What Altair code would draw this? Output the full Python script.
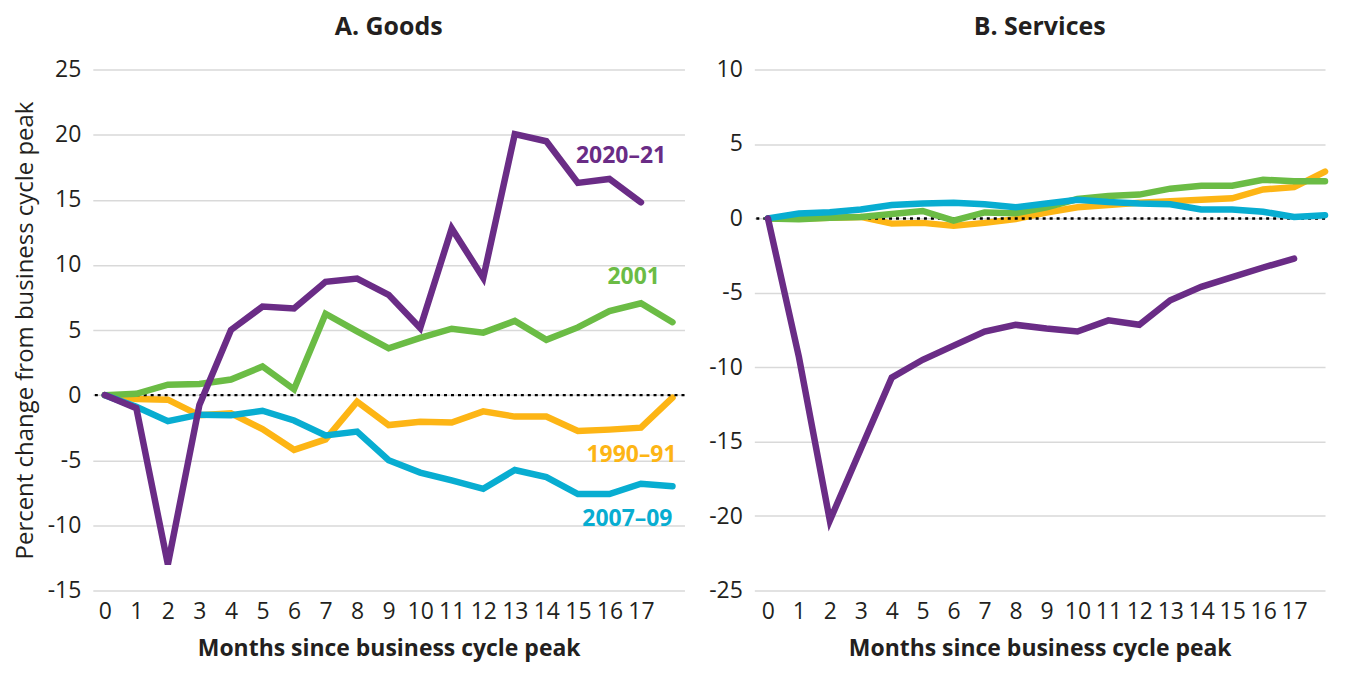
import altair as alt
import pandas as pd

months = list(range(19))
series_names = ["1990–91", "2001", "2007–09", "2020–21"]
series_colors = ["#FDB515", "#6BBC45", "#08ADD1", "#6A2C86"]

goods_1990 = [0, -0.3, -0.35, -1.55, -1.4, -2.6, -4.2, -3.4, -0.5, -2.3, -2.05, -2.1, -1.25, -1.65, -1.65, -2.75, -2.65, -2.5, -0.2]
goods_2001 = [0, 0.1, 0.8, 0.85, 1.2, 2.2, 0.45, 6.25, 4.9, 3.6, 4.4, 5.1, 4.8, 5.7, 4.25, 5.2, 6.45, 7.05, 5.6]
goods_2007 = [0, -0.9, -2.0, -1.5, -1.55, -1.2, -1.95, -3.1, -2.8, -5.0, -5.95, -6.55, -7.2, -5.75, -6.3, -7.6, -7.6, -6.8, -7.0]
goods_2020 = [0, -1.0, -13.0, -0.75, 5.0, 6.8, 6.65, 8.7, 8.95, 7.7, 5.15, 12.8, 9.0, 20.05, 19.5, 16.3, 16.6, 14.8]

serv_1990 = [0, 0, 0.05, 0.1, -0.35, -0.3, -0.5, -0.3, -0.05, 0.4, 0.75, 0.9, 1.05, 1.15, 1.25, 1.35, 1.95, 2.1, 3.15]
serv_2001 = [0, -0.05, 0.05, 0.1, 0.3, 0.5, -0.15, 0.4, 0.35, 0.75, 1.3, 1.5, 1.6, 2.0, 2.2, 2.2, 2.6, 2.5, 2.5]
serv_2007 = [0, 0.33, 0.42, 0.6, 0.9, 1.0, 1.05, 0.95, 0.75, 1.0, 1.25, 1.1, 1.0, 0.95, 0.6, 0.6, 0.45, 0.1, 0.22]
serv_2020 = [0, -9.3, -20.3, -15.5, -10.7, -9.5, -8.55, -7.6, -7.15, -7.4, -7.6, -6.85, -7.15, -5.5, -4.6, -3.95, -3.3, -2.7]

x_tick_values = list(range(18))
goods_y_ticks = [-15, -10, -5, 0, 5, 10, 15, 20, 25]
serv_y_ticks = [-25, -20, -15, -10, -5, 0, 5, 10]

label_text = ["2020–21", "2001", "1990–91", "2007–09"]
label_month = [17.8, 17.6, 18.13, 18.0]
label_value = [18.4, 9.07, -4.57, -9.5]

rows = []
for panel, data in [
    ("Goods", [goods_1990, goods_2001, goods_2007, goods_2020]),
    ("Services", [serv_1990, serv_2001, serv_2007, serv_2020]),
]:
    for name, vals in zip(series_names, data):
        for m, v in zip(months, vals):
            rows.append({"panel": panel, "series": name, "month": m, "value": v})
df = pd.DataFrame(rows)

labels_df = pd.DataFrame({"label": label_text, "month": label_month, "value": label_value})
zero_df = pd.DataFrame({"value": [0]})

color_scale = alt.Scale(domain=series_names, range=series_colors)
TEXT = "#231F20"


def make_panel(panel, ydom, yticks, title, xdom, width, ytitle=None, labels=False):
    x = alt.X(
        "month:Q",
        scale=alt.Scale(domain=xdom, nice=False, zero=False),
        axis=alt.Axis(
            values=x_tick_values, title="Months since business cycle peak",
            grid=False, ticks=False, domain=False, labelFontSize=23,
            labelPadding=10, titleFontSize=23, titleFontWeight="bold",
            titlePadding=14, labelFlush=False, labelOverlap=False,
        ),
    )
    yaxis_kwargs = dict(
        values=yticks, grid=True, ticks=False, domain=False, labelFontSize=23,
        labelPadding=12, labelExpr="datum.value + ''",
    )
    if ytitle:
        yaxis_kwargs.update(title=ytitle, titleFontSize=24, titleFontWeight="normal", titlePadding=10)
    y = alt.Y(
        "value:Q",
        scale=alt.Scale(domain=ydom, nice=False, zero=False),
        axis=alt.Axis(**yaxis_kwargs),
        title=ytitle if ytitle else None,
    )
    pdata = df[df.panel == panel]
    layers = []
    zero = alt.Chart(zero_df).mark_rule(
        strokeDash=[3, 4], strokeWidth=2.5, color="black"
    ).encode(y=y)
    for name in series_names:
        layers.append(
            alt.Chart(pdata[pdata.series == name]).mark_line(
                strokeWidth=6.5, strokeCap="round", strokeJoin="miter"
            ).encode(
                x=x, y=y,
                color=alt.Color("series:N", scale=color_scale, legend=None),
            )
        )
    if labels:
        layers.append(
            alt.Chart(labels_df).mark_text(
                align="right", baseline="middle", fontSize=23, fontWeight="bold"
            ).encode(
                x=x, y=y, text="label:N",
                color=alt.Color("label:N", scale=color_scale, legend=None),
            )
        )
    chart = alt.layer(*([layers[0]] + [zero] + layers[1:])).properties(
        width=width, height=522,
        title=alt.TitleParams(title, fontSize=25, fontWeight="bold", color=TEXT, offset=19),
    )
    return chart


goods = make_panel("Goods", [-15, 25], goods_y_ticks, "A. Goods", [-0.38, 18.38], 593,
                   ytitle="Percent change from business cycle peak", labels=True)
serv = make_panel("Services", [-25, 10], serv_y_ticks, "B. Services", [-0.44, 18.0], 572)

chart = alt.hconcat(goods, serv, spacing=22).properties(
    padding={"left": 5, "top": 6, "right": 0, "bottom": 8}
).configure_view(stroke=None).configure_axis(
    labelFont="Open Sans", titleFont="Open Sans", labelColor=TEXT, titleColor=TEXT,
    gridColor="#D9D9D9", gridWidth=1.5,
).configure_title(font="Open Sans").configure_text(font="Open Sans")

chart.save("out.html", embed_options={"renderer": "svg", "actions": False})
